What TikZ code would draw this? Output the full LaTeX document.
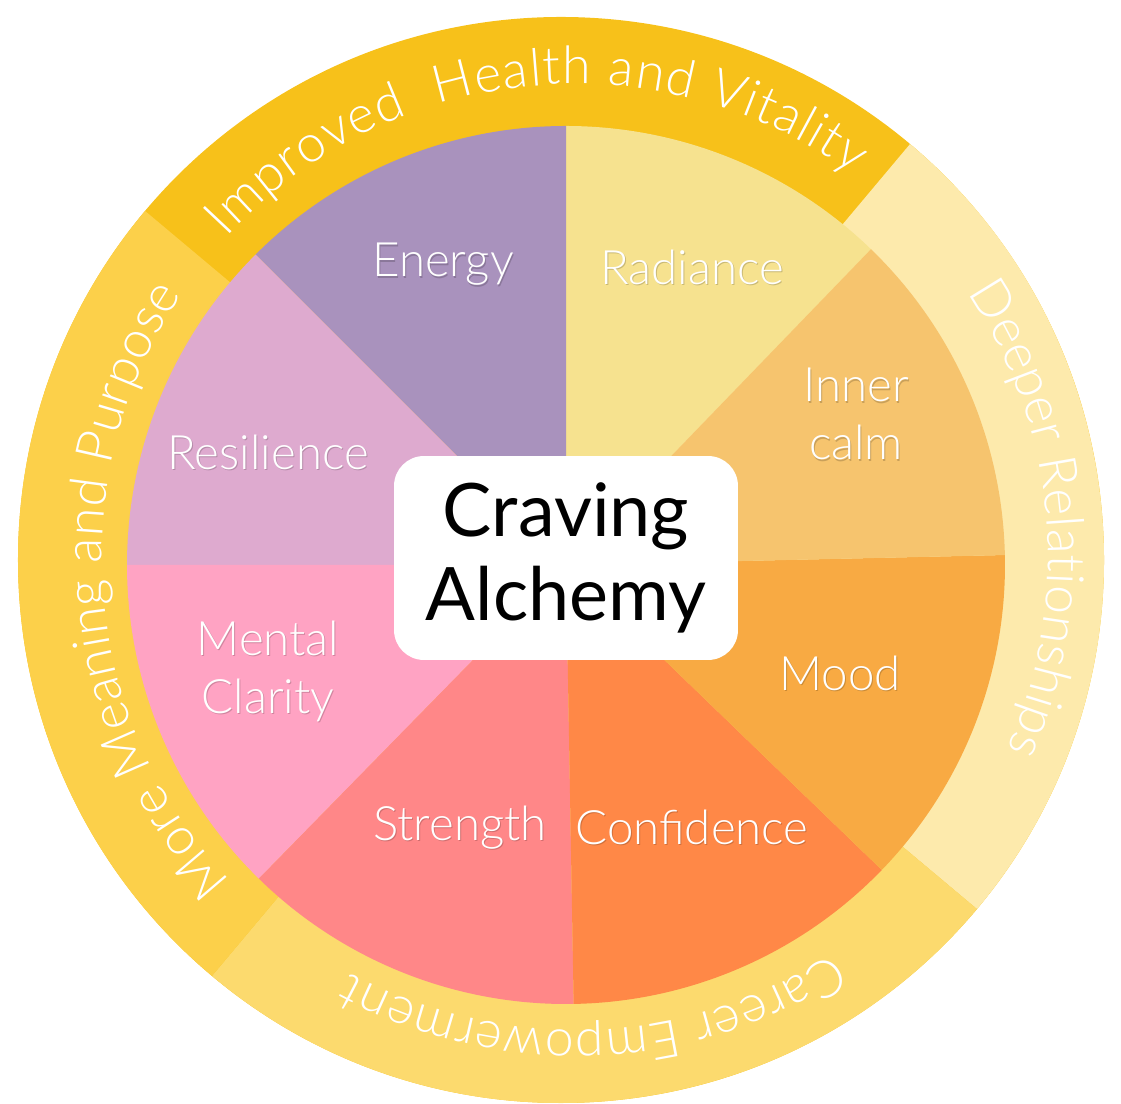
\documentclass[tikz,border=0pt]{standalone}
\usepackage{fontspec}
\setmainfont{Lato}
\newfontfamily\lightfont{Lato Light}
\usetikzlibrary{decorations.text}

\definecolor{ringtop}{RGB}{247,193,26}
\definecolor{ringright}{RGB}{253,234,172}
\definecolor{ringbottom}{RGB}{252,218,110}
\definecolor{ringleft}{RGB}{252,208,74}
\definecolor{energy}{RGB}{169,146,189}
\definecolor{radiance}{RGB}{246,226,143}
\definecolor{innercalm}{RGB}{246,196,110}
\definecolor{mood}{RGB}{248,170,67}
\definecolor{confidence}{RGB}{255,136,71}
\definecolor{strength}{RGB}{255,135,136}
\definecolor{mental}{RGB}{255,163,195}
\definecolor{resilience}{RGB}{222,170,207}

\newcommand\shd[1]{\leavevmode\rlap{\kern0.6pt\raisebox{-0.9pt}{\pgfsetfillopacity{0.18}\color{black}#1\pgfsetfillopacity{1}}}#1}

\begin{document}
\begin{tikzpicture}[x=0.02cm, y=0.02cm,
  lbl/.style={text=white, font=\lightfont\fontsize{27}{33}\selectfont, align=center},
  hub/.style={fill=white, rounded corners=17pt, minimum width=6.88cm, minimum height=4.08cm,
    align=center, font=\fontsize{42}{48}\selectfont},
  ringtext/.style={decorate, decoration={text along path, text align={fit to path},
    text color=white, text={|\lightfont\fontsize{29.5}{29.5}\selectfont|#1}}}]
\useasboundingbox (0,0) rectangle (1121,1104);

\coordinate (o) at (561,544);
\coordinate (c) at (566,539);
\coordinate (t) at (575,547);

\fill[ringtop] (o) circle[radius=543];
\fill[ringright] (o) -- ++(-40:543) arc[start angle=-40, end angle=50, radius=543] -- cycle;
\fill[ringbottom] (o) -- ++(230:543) arc[start angle=230, end angle=320, radius=543] -- cycle;
\fill[ringleft] (o) -- ++(140:543) arc[start angle=140, end angle=230, radius=543] -- cycle;

\fill[radiance] (c) -- ++(46:439) arc[start angle=46, end angle=90, radius=439] -- cycle;
\fill[energy] (c) -- ++(90:439) arc[start angle=90, end angle=135, radius=439] -- cycle;
\fill[resilience] (c) -- ++(135:439) arc[start angle=135, end angle=180, radius=439] -- cycle;
\fill[mental] (c) -- ++(180:439) arc[start angle=180, end angle=225.6, radius=439] -- cycle;
\fill[strength] (c) -- ++(225.6:439) arc[start angle=225.6, end angle=271, radius=439] -- cycle;
\fill[confidence] (c) -- ++(271:439) arc[start angle=271, end angle=316, radius=439] -- cycle;
\fill[mood] (c) -- ++(316:439) arc[start angle=316, end angle=361.3, radius=439] -- cycle;
\fill[innercalm] (c) -- ++(1.3:439) arc[start angle=1.3, end angle=46, radius=439] -- cycle;

\path[ringtext={Improved {~}Health and Vitality}] (t) ++(137.5:473) arc[start angle=137.5, end angle=54, radius=473];
\path[ringtext={Deeper Relationships}] (t) ++(34:473) arc[start angle=34, end angle=-24, radius=473];
\path[ringtext={Career Empowerment}] (t) ++(-57:473) arc[start angle=-57, end angle=-118.4, radius=473];
\path[ringtext={More Meaning and Purpose}] (t) ++(223.3:473) arc[start angle=223.3, end angle=146.3, radius=473];

\node[lbl] (energy) at (443,839) {\shd{Energy}};
\node[lbl] (radiance) at (692,836) {\shd{Radiance}};
\node[lbl] (inner) at (856,689) {\shd{Inner}\\\shd{calm}};
\node[lbl] (mood) at (840,430) {\shd{Mood}};
\node[lbl] (confidence) at (692,276) {\shd{Confidence}};
\node[lbl] (strength) at (460,276) {\shd{Strength}};
\node[lbl] (mental) at (268,432) {\shd{Mental}\\\shd{Clarity}};
\node[lbl] (resilience) at (268,651) {\shd{Resilience}};

\node[hub] (hub) at (566,546) {\raisebox{-2.2pt}{Craving}\\\raisebox{-2.2pt}{Alchemy}};
\end{tikzpicture}
\end{document}
